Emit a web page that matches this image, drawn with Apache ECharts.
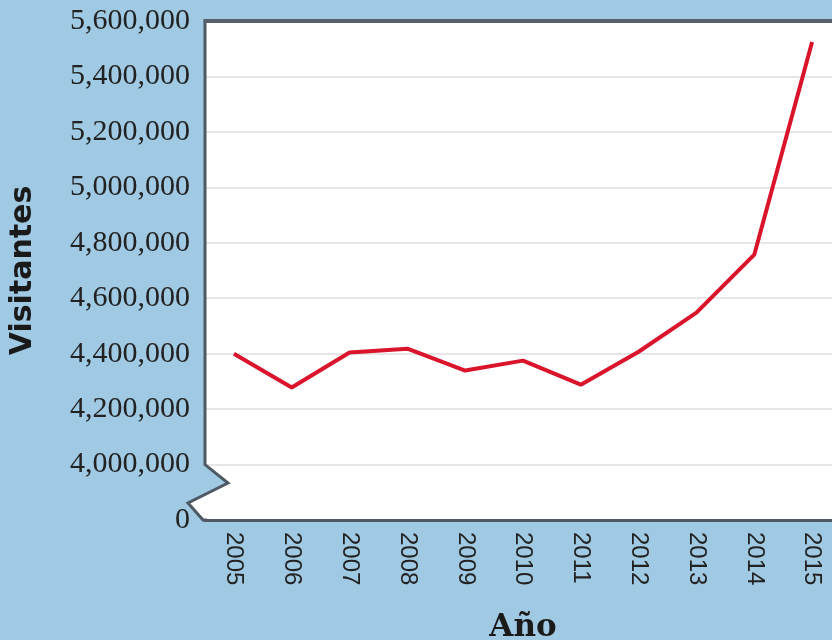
<!DOCTYPE html>
<html><head><meta charset="utf-8">
<script src="https://cdn.jsdelivr.net/npm/echarts@6/dist/echarts.min.js"></script>
<style>html,body{margin:0;padding:0;background:#a0c9e3;}#c{width:832px;height:640px;}</style>
</head><body><div id="c"></div>
<script>
const years = ['2005','2006','2007','2008','2009','2010','2011','2012','2013','2014','2015'];
const visitors = [4400000, 4278000, 4404000, 4418000, 4339000, 4375000, 4288000, 4407000, 4548000, 4757000, 5524000];
const yMin = 3800000, yMax = 5600000, yStep = 200000;

const GL = 205, GT = 21, GB = 520, GR = 841;
const chart = echarts.init(document.getElementById('c'));
chart.setOption({
  backgroundColor: '#a0c9e3',
  animation: false,
  grid: {left: GL, top: GT, width: GR - GL, height: GB - GT, show: false,
    containLabel: false, outerBoundsMode: 'none'},
  xAxis: {
    type: 'category', data: years, boundaryGap: true, z: 5,
    name: 'Año', nameLocation: 'middle', nameGap: 92,
    nameTextStyle: {fontFamily: 'DejaVu Serif', fontWeight: 'bold', fontSize: 31, color: '#1a1a1a'},
    axisLine: {show: true, lineStyle: {color: '#4e5964', width: 3}},
    axisTick: {show: false},
    axisLabel: {rotate: -90, margin: 12, fontFamily: 'Liberation Sans', fontSize: 24, color: '#222'},
    splitLine: {show: false}
  },
  yAxis: {
    type: 'value', min: yMin, max: yMax, interval: yStep, z: 5,
    name: 'Visitantes', nameLocation: 'middle', nameGap: 167, nameRotate: 90,
    nameTextStyle: {fontFamily: 'DejaVu Sans', fontWeight: 'bold', fontSize: 30, color: '#1a1a1a'},
    axisLine: {show: false}, axisTick: {show: false},
    axisLabel: {margin: 15, fontFamily: 'Liberation Serif', fontSize: 30, color: '#222',
      formatter: v => v === yMin ? '0' : v.toLocaleString('en-US')},
    splitLine: {show: true, lineStyle: {color: '#e6e6e6', width: 2}}
  },
  series: [{
    type: 'line', data: visitors, z: 6, symbol: 'none',
    lineStyle: {color: '#d9142b', width: 4}
  }]
});

const y4 = chart.convertToPixel({yAxisIndex: 0}, 4000000);
chart.setOption({
  graphic: [
    {type: 'polygon', z: 1, silent: true,
      shape: {points: [[GL, GT], [GR, GT], [GR, GB], [GL - 2, GB], [GL - 17, GB - 17], [GL + 23, GB - 37], [GL, y4]]},
      style: {fill: '#ffffff'}},
    {type: 'polyline', z: 7, silent: true,
      shape: {points: [[GL, GT], [GL, y4], [GL + 23, GB - 37], [GL - 17, GB - 17], [GL - 2, GB], [GL + 2, GB]]},
      style: {stroke: '#4e5964', lineWidth: 3, fill: null}},
    {type: 'line', z: 7, silent: true,
      shape: {x1: GL - 1.5, y1: GT, x2: GR, y2: GT},
      style: {stroke: '#56616b', lineWidth: 4}}
  ]
});
</script></body></html>
